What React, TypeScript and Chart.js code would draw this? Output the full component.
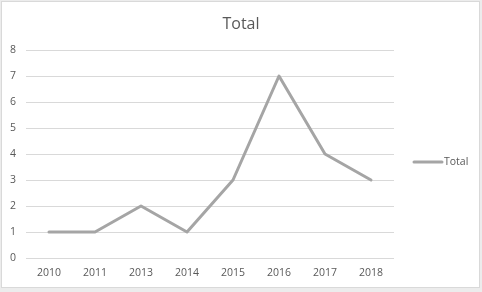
import React, { useEffect, useRef } from "react";
import { Chart, registerables } from "chart.js";

Chart.register(...registerables);

const categories = ["2010", "2011", "2013", "2014", "2015", "2016", "2017", "2018"];
const totalValues = [1, 1, 2, 1, 3, 7, 4, 3];
const seriesLabel = "Total";
const chartTitle = "Total";
const yMin = 0;
const yMax = 8;
const yStep = 1;

const FONT = "'Open Sans', 'Liberation Sans', sans-serif";
const TEXT = "#595959";
const LINE = "#A5A5A5";

export default function App() {
  const ref = useRef<HTMLCanvasElement | null>(null);

  useEffect(() => {
    document.body.style.margin = "0";
    const canvas = ref.current;
    if (!canvas) return;

    const framePlugin = {
      id: "frame",
      beforeDraw(chart: any) {
        const { ctx, width, height } = chart;
        ctx.save();
        ctx.fillStyle = "#ececec";
        ctx.fillRect(0, 0, width, height);
        ctx.fillStyle = "#ffffff";
        ctx.fillRect(1, 1, 479, 287);
        ctx.strokeStyle = "#d9d9d9";
        ctx.lineWidth = 1;
        ctx.strokeRect(1.5, 1.5, 478, 286);
        ctx.restore();
      },
    };

    const titleLegendPlugin = {
      id: "titleLegend",
      afterDraw(chart: any) {
        const { ctx } = chart;
        const ds = chart.data.datasets[0];
        ctx.save();
        ctx.fillStyle = TEXT;
        ctx.font = `16px ${FONT}`;
        ctx.textAlign = "center";
        ctx.textBaseline = "alphabetic";
        ctx.fillText(chartTitle, 241, 29);
        const y = 162;
        ctx.strokeStyle = ds.borderColor;
        ctx.lineWidth = 3;
        ctx.lineCap = "round";
        ctx.beginPath();
        ctx.moveTo(414, y);
        ctx.lineTo(442, y);
        ctx.stroke();
        ctx.font = `10.5px ${FONT}`;
        ctx.textBaseline = "middle";
        ctx.textAlign = "left";
        ctx.fillText(ds.label, 444, y);
        ctx.restore();
      },
    };

    const chart = new Chart(canvas, {
      type: "line",
      data: {
        labels: categories,
        datasets: [
          {
            label: seriesLabel,
            data: totalValues,
            borderColor: LINE,
            backgroundColor: LINE,
            borderWidth: 3,
            borderCapStyle: "round",
            borderJoinStyle: "round",
            pointRadius: 0,
            tension: 0,
          },
        ],
      },
      options: {
        animation: false,
        responsive: false,
        maintainAspectRatio: false,
        layout: { padding: { top: 50, left: 0, right: 88, bottom: 0 } },
        plugins: {
          legend: { display: false },
          tooltip: { enabled: false },
          title: { display: false },
        },
        scales: {
          x: {
            type: "category",
            offset: true,
            grid: { display: false, drawTicks: false },
            border: { display: false },
            ticks: {
              color: TEXT,
              font: { family: FONT, size: 10.5 },
              padding: 9,
              maxRotation: 0,
              autoSkip: false,
            },
            afterFit(scale: any) {
              scale.height = 34;
            },
          },
          y: {
            min: yMin,
            max: yMax,
            grid: { color: "#d9d9d9", lineWidth: 1, drawTicks: false },
            border: { display: false },
            ticks: {
              stepSize: yStep,
              color: TEXT,
              font: { family: FONT, size: 10.5 },
              padding: 10,
            },
            afterFit(scale: any) {
              scale.width = 26;
            },
          },
        },
      },
      plugins: [framePlugin, titleLegendPlugin],
    });

    return () => chart.destroy();
  }, []);

  return <canvas ref={ref} width={482} height={292} style={{ display: "block" }} />;
}
